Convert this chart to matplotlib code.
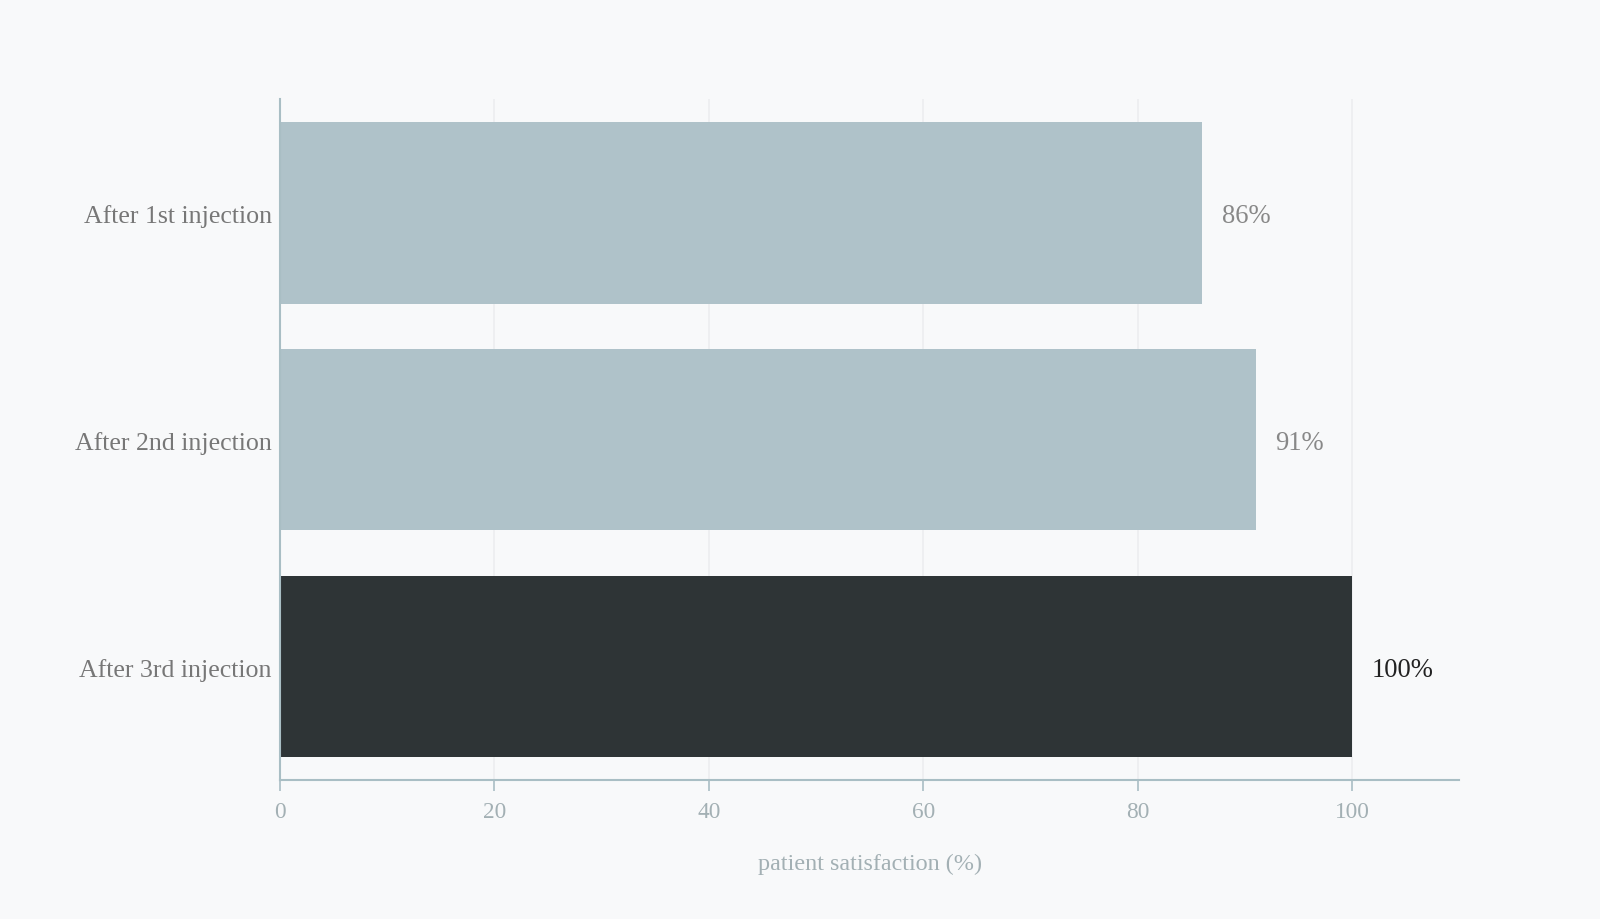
import matplotlib
matplotlib.use("Agg")
import matplotlib.pyplot as plt

categories = ["After 1st injection", "After 2nd injection", "After 3rd injection"]
values = [86, 91, 100]
value_labels = ["86%", "91%", "100%"]
bar_colors = ["#afc2c9", "#afc2c9", "#2e3436"]
label_colors = ["#888888", "#888888", "#222222"]
xticks = [0, 20, 40, 60, 80, 100]

plt.rcParams['font.family'] = ['Liberation Serif', 'DejaVu Serif']

bg = "#f8f9fa"
fig = plt.figure(figsize=(16, 9.2), dpi=100, facecolor=bg)
ax = fig.add_axes([0.175, 0.151, 0.737, 0.740], facecolor=bg)

y = list(range(len(categories)))
ax.barh(y, values, height=0.8, color=bar_colors, zorder=2)
for yi, v, lab, c in zip(y, values, value_labels, label_colors):
    ax.text(v + 1.85, yi, lab, va="center_baseline", ha="left", fontsize=19.2, color=c)

ax.set_xlim(0, 110)
ax.set_ylim(2.5, -0.5)
ax.set_yticks(y)
ax.set_yticklabels(categories, fontsize=18.6, color="#777777", va="center_baseline")
ax.set_xticks(xticks)
ax.set_xticklabels([str(t) for t in xticks], fontsize=16.8, color="#a3b0b4")
ax.tick_params(axis="y", length=0, pad=6)
ax.tick_params(axis="x", length=8, width=1.2, color="#a9bec4", pad=7)
ax.set_xlabel("patient satisfaction (%)", fontsize=17.4, color="#a3b0b4", labelpad=22)

ax.grid(axis="x", color="#eceef0", linewidth=1.2, zorder=0)
ax.set_axisbelow(True)
for s in ["top", "right"]:
    ax.spines[s].set_visible(False)
for s in ["left", "bottom"]:
    ax.spines[s].set_color("#a9bec4")
    ax.spines[s].set_linewidth(1.5)

fig.savefig("out.png", dpi=100, facecolor=bg)
